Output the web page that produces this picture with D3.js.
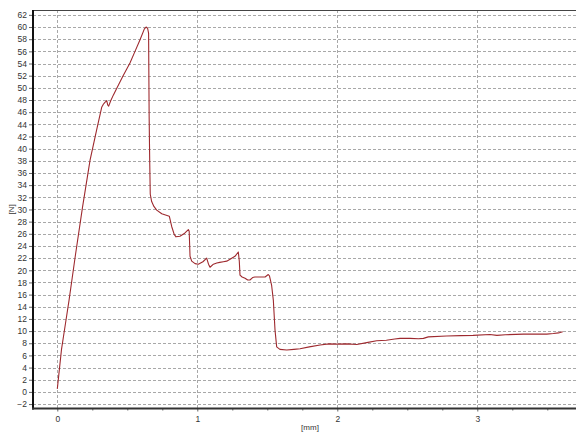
<!DOCTYPE html>
<html>
<head>
<meta charset="utf-8">
<script src="https://cdn.jsdelivr.net/npm/d3@7"></script>
<style>
  html, body { margin: 0; padding: 0; background: #fff; }
  svg { display: block; }
  text { font-family: "Liberation Sans", Arial, sans-serif; }
</style>
</head>
<body>
<svg id="chart" width="576" height="432"></svg>
<script>
// ---- data ----
const distance = [0.000,0.030,0.060,0.084,0.130,0.181,0.234,0.281,0.317,0.329,0.340,0.353,0.360,0.367,0.380,0.400,0.424,0.470,0.519,0.555,0.591,0.622,0.634,0.645,0.652,0.656,0.660,0.664,0.674,0.690,0.710,0.746,0.800,0.817,0.835,0.848,0.876,0.910,0.936,0.942,0.948,0.960,0.984,1.007,1.040,1.067,1.080,1.091,1.115,1.139,1.160,1.186,1.210,1.234,1.269,1.293,1.300,1.305,1.320,1.341,1.360,1.376,1.395,1.411,1.440,1.484,1.507,1.515,1.531,1.543,1.555,1.567,1.590,1.639,1.690,1.734,1.800,1.877,1.940,1.996,2.070,2.139,2.210,2.281,2.350,2.410,2.448,2.519,2.580,2.615,2.650,2.780,2.880,2.970,3.090,3.140,3.200,3.330,3.420,3.496,3.543,3.580,3.610];
const force = [0.5,7.0,11.5,15.1,22.6,30.5,38.1,43.1,46.8,47.3,47.6,47.9,47.2,47.0,47.8,48.8,49.9,52.0,54.1,56.0,57.9,59.7,60.0,59.8,59.0,45.3,38.0,32.5,31.3,30.5,29.9,29.3,28.9,27.2,25.9,25.5,25.6,26.1,26.7,26.4,22.3,21.5,21.1,21.0,21.4,22.0,21.0,20.5,21.0,21.2,21.3,21.4,21.5,21.8,22.3,23.0,21.5,19.2,18.9,18.7,18.4,18.4,18.8,18.9,18.9,18.9,19.3,19.1,17.5,15.1,10.2,7.4,7.0,6.9,7.0,7.1,7.4,7.7,7.9,7.85,7.9,7.8,8.1,8.4,8.5,8.7,8.8,8.8,8.75,8.8,9.05,9.2,9.25,9.3,9.45,9.3,9.4,9.5,9.5,9.5,9.6,9.7,9.9];
const xMajorTicks = [0, 1, 2, 3];
const xMinorTicks = [0.25,0.5,0.75,1.25,1.5,1.75,2.25,2.5,2.75,3.25,3.5];
const yTicks = d3.range(-2, 63, 2);
const xLabel = "[mm]";
const yLabel = "[N]";

// ---- layout ----
const svg = d3.select("#chart");
const pL = 33, pT = 10, pB = 408.5, pR = 580;

const x = d3.scaleLinear().domain([-0.1736, -0.1736 + (pR - pL) / 140]).range([pL, pR]);
const y = d3.scaleLinear().domain([-2.73, 62.8]).range([pB, pT]);

svg.append("defs").append("clipPath").attr("id", "clip")
  .append("rect").attr("x", pL).attr("y", pT).attr("width", pR - pL).attr("height", pB - pT);

// grid
const grid = svg.append("g").attr("clip-path", "url(#clip)");
grid.selectAll("line.h").data(yTicks).join("line").attr("class", "h")
  .attr("x1", pL).attr("x2", pR)
  .attr("y1", d => Math.round(y(d)) + 0.5).attr("y2", d => Math.round(y(d)) + 0.5)
  .attr("stroke", "#a8a8a8").attr("stroke-width", 1).attr("stroke-dasharray", "3,2");
grid.selectAll("line.v").data(xMajorTicks).join("line").attr("class", "v")
  .attr("x1", d => Math.round(x(d)) + 0.5).attr("x2", d => Math.round(x(d)) + 0.5)
  .attr("y1", pT).attr("y2", pB)
  .attr("stroke", "#a8a8a8").attr("stroke-width", 1).attr("stroke-dasharray", "3,2");

// data line
const line = d3.line().x((d, i) => x(distance[i])).y((d, i) => y(force[i]));
svg.append("path").datum(force)
  .attr("clip-path", "url(#clip)")
  .attr("d", line)
  .attr("fill", "none").attr("stroke", "#9e2a2f").attr("stroke-width", 1.1)
  .attr("stroke-linejoin", "round");

// top border
svg.append("line").attr("x1", pL).attr("x2", 576).attr("y1", pT + 0.5).attr("y2", pT + 0.5)
  .attr("stroke", "#444").attr("stroke-width", 1);

// y axis
const yAxis = svg.append("g").attr("transform", `translate(${pL},0)`)
  .call(d3.axisLeft(y).tickValues(yTicks).tickSize(4).tickPadding(2).tickFormat(d3.format("d")));
yAxis.select(".domain").remove();
yAxis.selectAll(".tick line").attr("stroke", "#666");
yAxis.selectAll(".tick text").attr("font-size", 8.5).attr("fill", "#333")
  .attr("font-family", "'Liberation Sans', Arial, sans-serif");
svg.append("line").attr("x1", pL).attr("x2", pL).attr("y1", pT).attr("y2", pB + 1)
  .attr("stroke", "#111").attr("stroke-width", 2);

// x axis
const xAxis = svg.append("g").attr("transform", `translate(0,${pB})`)
  .call(d3.axisBottom(x).tickValues(xMajorTicks).tickSize(3).tickPadding(4).tickFormat(d3.format("d")));
xAxis.select(".domain").remove();
xAxis.selectAll(".tick line").attr("stroke", "#666");
xAxis.selectAll(".tick text").attr("font-size", 8.5).attr("fill", "#333")
  .attr("font-family", "'Liberation Sans', Arial, sans-serif");
const xMinor = svg.append("g").attr("transform", `translate(0,${pB})`)
  .call(d3.axisBottom(x).tickValues(xMinorTicks).tickSize(2).tickFormat(""));
xMinor.select(".domain").remove();
xMinor.selectAll(".tick line").attr("stroke", "#666");
svg.append("line").attr("x1", pL - 1).attr("x2", 576).attr("y1", pB).attr("y2", pB)
  .attr("stroke", "#333").attr("stroke-width", 2);

// axis labels
svg.append("text").attr("x", 310).attr("y", 430).attr("text-anchor", "middle")
  .attr("font-size", 8).attr("fill", "#333").text(xLabel);
svg.append("text").attr("transform", `translate(14,${y(30)}) rotate(-90)`).attr("text-anchor", "middle")
  .attr("font-size", 8).attr("fill", "#333").text(yLabel);
</script>
</body>
</html>
